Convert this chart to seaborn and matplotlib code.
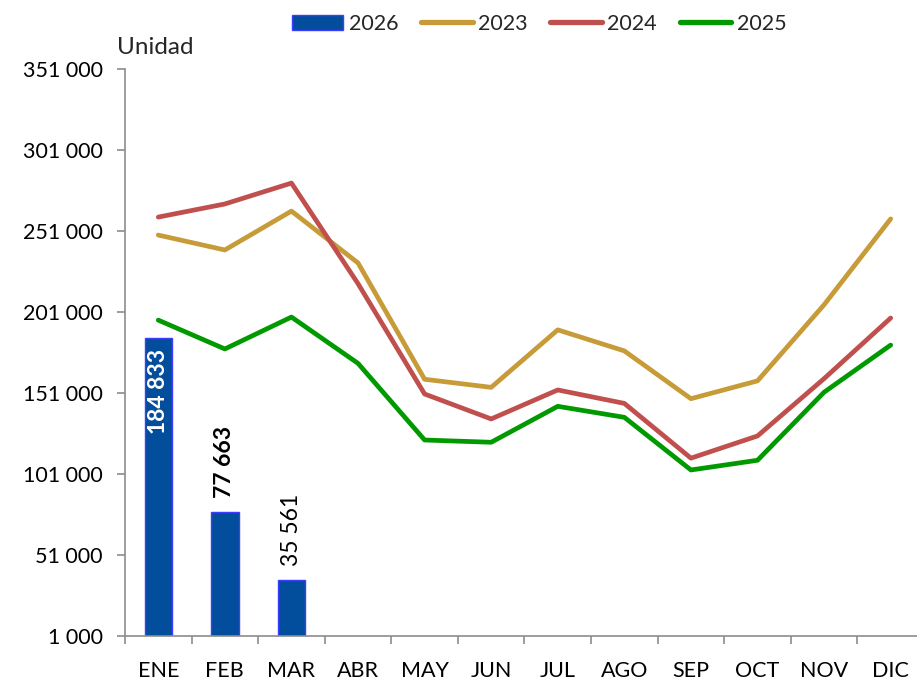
import numpy as np
import pandas as pd
import seaborn as sns
import matplotlib
matplotlib.use("Agg")
import matplotlib.pyplot as plt
from matplotlib.patches import Patch
from matplotlib.lines import Line2D
from matplotlib.ticker import FuncFormatter, FixedLocator

# Data
months = ["ENE", "FEB", "MAR", "ABR", "MAY", "JUN", "JUL", "AGO", "SEP", "OCT", "NOV", "DIC"]
bar_months = ["ENE", "FEB", "MAR"]
values_2026 = [184833, 77663, 35561]
values_2023 = [248500, 239300, 263300, 231300, 159500, 154500, 190000, 177000, 147500, 158500, 205500, 258500]
values_2024 = [259600, 267700, 280600, 218500, 150400, 135000, 152900, 144600, 110800, 124500, 159900, 197300]
values_2025 = [196000, 178200, 197900, 169300, 122000, 120600, 142800, 136000, 103500, 109500, 151500, 180600]
years = ["2023", "2024", "2025"]
colors = {"2023": "#C69B38", "2024": "#C0504D", "2025": "#009A00"}
bar_color = "#034E9C"
bar_edge = "#3D3DFF"

sns.set_theme(style="white")
plt.rcParams["font.family"] = ["Lato", "DejaVu Sans"]

lines = pd.DataFrame({
    "Mes": months * 3,
    "Anio": np.repeat(years, len(months)),
    "Valor": values_2023 + values_2024 + values_2025,
})

fig = plt.figure(figsize=(9.17, 6.82), dpi=100)
ax = fig.add_axes([0.1363, 0.0674, 0.8713, 0.8314])

sns.barplot(x=bar_months, y=values_2026, order=months, color=bar_color,
            width=0.41, edgecolor=bar_edge, linewidth=1, saturation=1, ax=ax)

sns.lineplot(data=lines, x="Mes", y="Valor", hue="Anio", palette=colors,
             linewidth=3.4, legend=False, ax=ax, sort=False)

# value labels on the 2026 bars
styles = [
    dict(color="white", fontweight="bold", va="top", offset=-8),
    dict(color="black", fontweight="bold", va="bottom", offset=10),
    dict(color="black", fontweight="normal", va="bottom", offset=10),
]
for patch, val, st in zip(ax.patches, values_2026, styles):
    x = patch.get_x() + patch.get_width() / 2
    ax.annotate(f"{val:,}".replace(",", " "), (x, patch.get_height()),
                xytext=(0, st["offset"]), textcoords="offset points",
                rotation=90, ha="center", va=st["va"], fontsize=16.5,
                color=st["color"], fontweight=st["fontweight"])

ax.set_xlim(-0.5, 11.5)
ax.set_ylim(1000, 351000)
ax.yaxis.set_major_locator(FixedLocator(np.arange(1000, 351001, 50000)))
ax.yaxis.set_major_formatter(FuncFormatter(lambda v, p: f"{int(v):,}".replace(",", " ")))
ax.set_xticks(range(len(months)))
ax.set_xticklabels(months)
ax.xaxis.set_minor_locator(FixedLocator(np.arange(-0.5, 12, 1)))
ax.tick_params(axis="x", which="major", length=0, pad=18, labelsize=15.5, colors="black")
ax.tick_params(axis="x", which="minor", length=6, width=1.2, color="#8C8C8C", bottom=True)
ax.tick_params(axis="y", which="major", length=6, width=1.2, color="#8C8C8C",
               labelsize=15.5, labelcolor="black", pad=10, left=True)
ax.set_xlabel("")
ax.set_ylabel("")

for side in ["top", "right"]:
    ax.spines[side].set_visible(False)
for side in ["left", "bottom"]:
    ax.spines[side].set_color("#8C8C8C")
    ax.spines[side].set_linewidth(1.2)

fig.text(117 / 917, 1 - 47 / 682, "Unidad", fontsize=17.5, ha="left", va="center")

handles = [Patch(facecolor=bar_color, edgecolor=bar_edge, label="2026")]
handles += [Line2D([0], [0], color=colors[y], lw=3.8, solid_capstyle="round", label=y) for y in years]
fig.legend(handles=handles, loc="center", bbox_to_anchor=(539 / 917, 1 - 24 / 682),
           ncol=4, frameon=False, fontsize=15.5, handlelength=2.4, handleheight=0.7,
           handletextpad=0.25, columnspacing=1.05)

fig.savefig("out.png", dpi=100)
